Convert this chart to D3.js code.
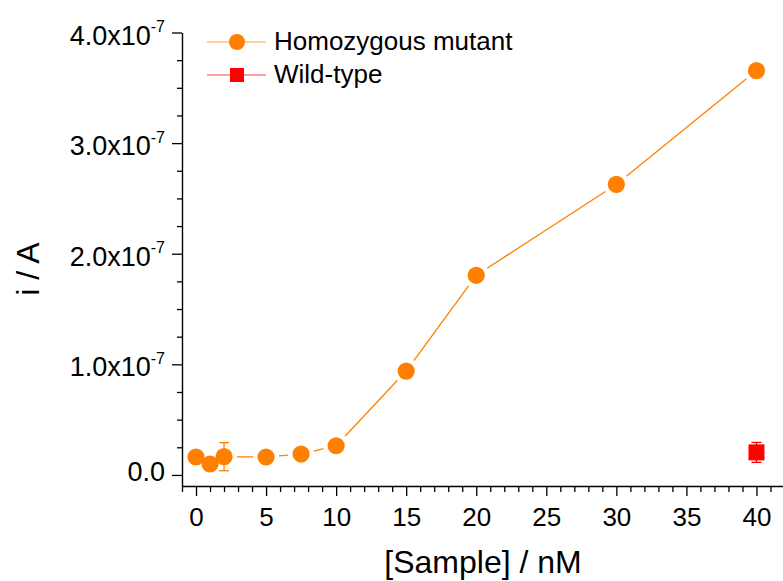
<!DOCTYPE html>
<html>
<head>
<meta charset="utf-8">
<script src="https://cdn.jsdelivr.net/npm/d3@7"></script>
<style>
  html, body { margin: 0; padding: 0; background: #fff; }
  svg { display: block; font-family: "Liberation Sans", Arial, sans-serif; }
</style>
</head>
<body>
<svg id="chart" width="783" height="581"></svg>
<script>
// ---- data ----
const concentrations = [0, 1, 2, 5, 7.5, 10, 15, 20, 30, 40];           // nM
const mutantCurrent  = [1.62e-8, 0.99e-8, 1.65e-8, 1.62e-8, 1.89e-8, 2.64e-8, 9.39e-8, 1.805e-7, 2.627e-7, 3.655e-7];
const mutantError    = [0.3e-8, 0.3e-8, 1.27e-8, 0.3e-8, 0.3e-8, 0.4e-8, 0.4e-8, 0.4e-8, 0.4e-8, 0.4e-8];
const wildConc       = [40];
const wildCurrent    = [2.04e-8];
const wildError      = [0.9e-8];

const seriesNames    = ["Homozygous mutant", "Wild-type"];
const xMajorTicks    = [0, 5, 10, 15, 20, 25, 30, 35, 40];
const xMinorTicks    = [-1, 1, 2, 3, 4, 6, 7, 8, 9, 11, 12, 13, 14, 16, 17, 18, 19, 21, 22, 23, 24, 26, 27, 28, 29, 31, 32, 33, 34, 36, 37, 38, 39, 41, 42];
const yMajorTicks    = [0, 1e-7, 2e-7, 3e-7, 4e-7];
const yMantissa      = ["0.0", "1.0", "2.0", "3.0", "4.0"];
const yExponent      = "-7";
const yMinorTicks    = [0.25e-7, 0.5e-7, 0.75e-7, 1.25e-7, 1.5e-7, 1.75e-7, 2.25e-7, 2.5e-7, 2.75e-7, 3.25e-7, 3.5e-7, 3.75e-7];
const xTitle = "[Sample] / nM";
const yTitle = "i / A";

// ---- styles ----
const ORANGE = "#FF8000";
const RED = "#FF0000";

const svg = d3.select("#chart");
const x = d3.scaleLinear().domain([-1, 42]).range([182, 784.5]);
const y = d3.scaleLinear().domain([-0.1e-7, 4e-7]).range([486, 32.5]);

// axes
const xAxisY = y(-0.1e-7);
const xMajor = d3.axisBottom(x).tickValues(xMajorTicks).tickSize(10).tickSizeOuter(0).tickFormat(d3.format("d"));
const xMinor = d3.axisBottom(x).tickValues(xMinorTicks).tickSize(6).tickSizeOuter(0).tickFormat("");
const gxMinor = svg.append("g").attr("transform", `translate(0,${xAxisY})`).call(xMinor);
const gx = svg.append("g").attr("transform", `translate(0,${xAxisY})`).call(xMajor);
gxMinor.select(".domain").remove();

const yAxisX = x(-1);
const yMajor = d3.axisLeft(y).tickValues(yMajorTicks).tickSize(10).tickSizeOuter(0).tickFormat("");
const yMinor = d3.axisLeft(y).tickValues(yMinorTicks).tickSize(5).tickSizeOuter(0).tickFormat("");
const gyMinor = svg.append("g").attr("transform", `translate(${yAxisX},0)`).call(yMinor);
const gy = svg.append("g").attr("transform", `translate(${yAxisX},0)`).call(yMajor);
gyMinor.select(".domain").remove();

svg.selectAll(".domain").attr("stroke", "#000").attr("stroke-width", 1.4);
svg.selectAll(".tick line").attr("stroke", "#000").attr("stroke-width", 1.3);
gx.selectAll(".tick text").attr("font-size", 26).attr("fill", "#000")
  .attr("font-family", "'Liberation Sans', Arial, sans-serif").attr("dy", null).attr("y", 39.5);

// y tick labels with superscript
yMajorTicks.forEach((v, i) => {
  const t = svg.append("text")
    .attr("x", 165)
    .attr("text-anchor", "end")
    .attr("font-size", 27)
    .attr("fill", "#000");
  if (v === 0) {
    t.attr("y", y(v) + 6.5).text(yMantissa[i]);
  } else {
    t.attr("y", y(v) + 12);
    t.append("tspan").text(yMantissa[i] + "x10");
    t.append("tspan").attr("font-size", 16).attr("dy", -12.5).text(yExponent);
  }
});

// axis titles
svg.append("text").attr("x", 483).attr("y", 573).attr("text-anchor", "middle")
  .attr("font-size", 32).attr("fill", "#000").text(xTitle);
svg.append("text").attr("transform", `translate(38.5,269) rotate(-90)`).attr("text-anchor", "middle")
  .attr("font-size", 32).attr("fill", "#000").text(yTitle);

// ---- mutant series ----
const mutant = concentrations.map((c, i) => ({ x: c, y: mutantCurrent[i], e: mutantError[i] }));
const wild = wildConc.map((c, i) => ({ x: c, y: wildCurrent[i], e: wildError[i] }));

// connecting line with gaps around markers
const gap = 13;
const segs = [];
for (let i = 0; i < mutant.length - 1; i++) {
  const x1 = x(mutant[i].x), y1 = y(mutant[i].y), x2 = x(mutant[i + 1].x), y2 = y(mutant[i + 1].y);
  const L = Math.hypot(x2 - x1, y2 - y1);
  if (L > 2 * gap) {
    const ux = (x2 - x1) / L, uy = (y2 - y1) / L;
    segs.push([x1 + ux * gap, y1 + uy * gap, x2 - ux * gap, y2 - uy * gap]);
  }
}
svg.append("g").selectAll("line").data(segs).join("line")
  .attr("x1", d => d[0]).attr("y1", d => d[1]).attr("x2", d => d[2]).attr("y2", d => d[3])
  .attr("stroke", ORANGE).attr("stroke-width", 1.3);

function errorBars(data, color) {
  const g = svg.append("g").attr("stroke", color).attr("stroke-width", 1.3);
  data.forEach(d => {
    const cx = x(d.x), yt = y(d.y + d.e), yb = y(d.y - d.e);
    g.append("line").attr("x1", cx).attr("x2", cx).attr("y1", yt).attr("y2", yb);
    g.append("line").attr("x1", cx - 5).attr("x2", cx + 5).attr("y1", yt).attr("y2", yt);
    g.append("line").attr("x1", cx - 5).attr("x2", cx + 5).attr("y1", yb).attr("y2", yb);
  });
}
errorBars(mutant, ORANGE);
errorBars(wild, RED);

svg.append("g").selectAll("circle").data(mutant).join("circle")
  .attr("cx", d => x(d.x)).attr("cy", d => y(d.y)).attr("r", 8.6).attr("fill", ORANGE);

svg.append("g").selectAll("rect").data(wild).join("rect")
  .attr("x", d => x(d.x) - 8).attr("y", d => y(d.y) - 8).attr("width", 16).attr("height", 16).attr("fill", RED);

// ---- legend ----
const lg = svg.append("g");
const legendRows = [
  { name: seriesNames[0], color: ORANGE, shape: "circle", cy: 42, base: 50 },
  { name: seriesNames[1], color: RED, shape: "square", cy: 75, base: 83 }
];
legendRows.forEach(r => {
  lg.append("line").attr("x1", 207).attr("x2", 266).attr("y1", r.cy).attr("y2", r.cy)
    .attr("stroke", r.color).attr("stroke-width", 1).attr("stroke-opacity", 0.75);
  if (r.shape === "circle") {
    lg.append("circle").attr("cx", 237).attr("cy", r.cy).attr("r", 8).attr("fill", r.color);
  } else {
    lg.append("rect").attr("x", 230).attr("y", r.cy - 7).attr("width", 14).attr("height", 14).attr("fill", r.color);
  }
  lg.append("text").attr("x", 274).attr("y", r.base).attr("font-size", 26).attr("fill", "#000").text(r.name);
});
</script>
</body>
</html>
